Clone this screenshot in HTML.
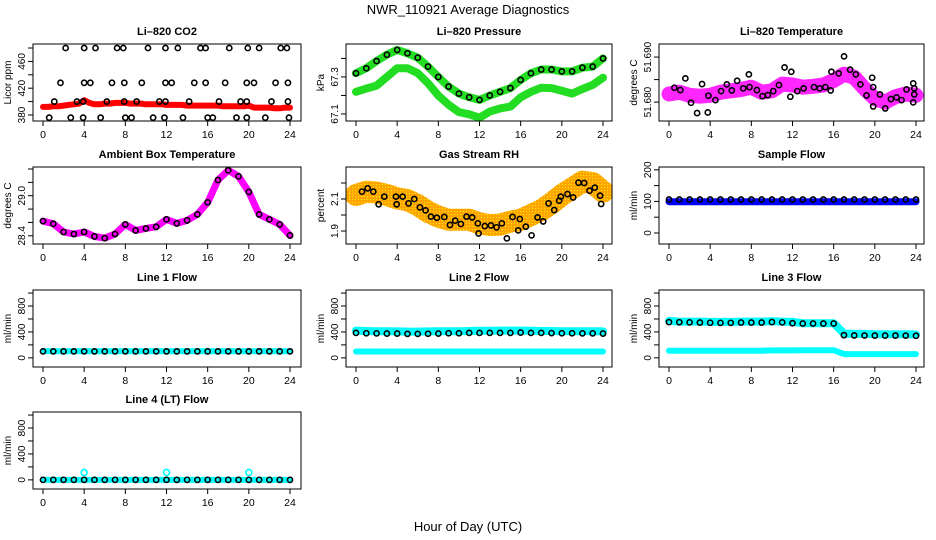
<!DOCTYPE html>
<html><head><meta charset="utf-8">
<style>
html,body{margin:0;padding:0;background:#fff;}
svg{display:block;font-family:"Liberation Sans",sans-serif;}
</style></head>
<body>
<svg id="chart" width="936" height="540" viewBox="0 0 936 540" xmlns="http://www.w3.org/2000/svg">
<defs>
<pattern id="rhpat" width="3" height="3" patternUnits="userSpaceOnUse">
<rect width="3" height="3" fill="#ffa500"/><rect x="1" y="1" width="1" height="1" fill="#ffee00"/>
</pattern>
</defs>
<text x="468" y="14" text-anchor="middle" font-size="13">NWR_110921  Average Diagnostics</text>
<text x="468" y="531" text-anchor="middle" font-size="13">Hour of Day (UTC)</text>
</svg>
<script>
const HRS=[0,1,2,3,4,5,6,7,8,9,10,11,12,13,14,15,16,17,18,19,20,21,22,23,24];
const HALF=[0,0.5,1,1.5,2,2.5,3,3.5,4,4.5,5,5.5,6,6.5,7,7.5,8,8.5,9,9.5,10,10.5,11,11.5,12,12.5,13,13.5,14,14.5,15,15.5,16,16.5,17,17.5,18,18.5,19,19.5,20,20.5,21,21.5,22,22.5,23,23.5,24];
const X_TICKS=[0,4,8,12,16,20,24];

// CO2
const co2Red=[392,392,393,393,394,395,396,397,402,398,396,396,397,397,398,398,398,397,397,397,396,396,396,396,395,395,395,395,394,394,394,394,394,394,394,393,393,393,393,393,394,391,391,391,391,390,390,391,391];
const co2BlkHours=[2.2,4.0,5.1,7.2,7.8,10.2,11.9,13.1,15.3,15.8,18.1,19.9,21.0,23.1,23.7, 1.7,4.0,4.6,6.7,7.9,9.6,11.9,12.5,14.7,15.8,17.7,19.8,20.5,22.6,23.8, 1.1,3.3,3.9,6.2,7.9,9.1,11.3,11.9,14.2,17.1,19.2,19.8,22.2,23.8, 0.6,2.7,3.9,5.6,8.0,8.6,10.7,11.8,13.6,16.0,16.5,18.8,19.8,21.6,23.9];
const co2BlkVals=[480,480,480,480,480,480,480,480,480,480,480,480,480,480,480, 428,428,428,428,428,428,428,428,428,428,428,428,428,428,428, 400,400,400,400,400,400,400,400,400,400,400,400,400,400, 376,376,376,376,376,376,376,376,376,376,376,376,376,376,376];
// Pressure
const presUpper=[67.32,67.347,67.386,67.42,67.446,67.428,67.404,67.356,67.30,67.248,67.21,67.19,67.176,67.20,67.22,67.24,67.284,67.32,67.34,67.34,67.33,67.33,67.35,67.356,67.40];
const presLower=[67.22,67.237,67.253,67.30,67.347,67.347,67.32,67.266,67.20,67.15,67.11,67.098,67.08,67.113,67.13,67.14,67.19,67.22,67.242,67.24,67.225,67.21,67.235,67.257,67.296];
// Li-820 temperature
const tempBand=[51.6818,51.6822,51.6815,51.6813,51.6815,51.6822,51.6825,51.6828,51.6833,51.6822,51.6825,51.6840,51.6838,51.6833,51.6835,51.6838,51.6848,51.6862,51.6855,51.6830,51.6808,51.6800,51.6812,51.6818,51.6815];
const tempBlkHours=[0.52,1.10,1.59,2.14,2.73,3.21,3.83,3.77,4.51,5.06,5.62,6.10,6.62,7.21,7.76,7.82,8.54,9.09,9.61,10.13,10.68,11.23,11.79,11.88,12.47,13.08,14.09,14.64,15.19,15.71,15.78,16.49,17.01,17.60,18.15,18.60,19.19,19.74,19.84,19.84,20.49,21.01,21.56,22.11,22.60,23.08,23.73,23.83,23.83,23.73];
const tempBlkVals=[51.68319,51.68267,51.68526,51.67985,51.67756,51.68400,51.68141,51.67770,51.68044,51.68244,51.68393,51.68259,51.68474,51.68304,51.68615,51.68333,51.68267,51.68133,51.68156,51.68244,51.68378,51.68770,51.68119,51.68674,51.68244,51.68304,51.68333,51.68304,51.68333,51.68259,51.68674,51.68637,51.69015,51.68719,51.68615,51.68393,51.68148,51.68541,51.68333,51.67904,51.68170,51.67859,51.68067,51.68104,51.68044,51.68281,51.68415,51.68304,51.68170,51.67993];
// Ambient box temperature
const ambBand=[28.62,28.58,28.457,28.426,28.457,28.39,28.365,28.426,28.57,28.48,28.51,28.534,28.646,28.585,28.63,28.72,28.90,29.235,29.38,29.29,29.057,28.72,28.646,28.57,28.405];
// Gas stream RH
const rhBand=[2.125,2.146,2.14,2.125,2.104,2.093,2.062,2.02,1.99,1.97,1.97,1.97,1.948,1.937,1.94,1.958,1.97,2.0,2.03,2.073,2.125,2.167,2.208,2.20,2.146];
const rhBlkHours=[0.58,1.13,1.68,2.20,2.75,3.88,3.95,4.53,5.11,5.66,6.21,6.76,7.28,7.86,8.58,9.13,9.64,10.19,10.74,11.29,11.84,11.91,12.52,13.11,13.66,14.17,14.66,15.21,15.76,15.92,16.50,17.06,17.64,18.19,18.71,19.26,19.74,19.90,20.55,21.10,21.62,22.17,22.69,23.20,23.72,23.82];
const rhBlkVals=[2.146,2.167,2.146,2.067,2.115,2.115,2.067,2.115,2.073,2.10,2.048,2.029,1.99,1.983,1.988,1.938,1.965,1.944,1.99,1.985,1.948,1.885,1.931,1.935,1.923,1.948,1.854,1.988,1.904,1.975,1.927,1.873,1.985,1.96,2.073,2.031,2.09,2.115,2.131,2.110,2.202,2.20,2.152,2.171,2.121,2.069];
// Flows
const sampleBlue=[99,99,99,99,99,99,99,99,99,99,99,99,99,99,99,99,99,99,99,99,99,99,99,99,99];
const sampleBlk=[106,106,106,106,106,106,106,106,106,106,106,106,106,106,106,106,106,106,106,106,106,106,106,106,106];
const line1Cyan=[105,102,102,102,102,102,102,102,102,102,102,102,102,102,102,102,102,102,102,102,102,102,102,102,102];
const line1Blk=[100,100,100,100,100,100,100,100,100,100,100,100,100,100,100,100,100,100,100,100,100,100,100,100,100];
const line2CyanHi=[420,415,410,410,408,405,405,408,410,412,412,415,418,418,420,420,420,418,415,415,412,412,410,410,408];
const line2Blk=[385,380,378,375,375,370,370,372,375,380,380,385,385,385,385,385,390,385,385,382,380,380,378,378,375];
const line2CyanLo=[98,98,98,98,98,98,98,98,98,98,98,98,98,98,98,98,98,98,98,98,98,98,98,98,98];
const line3CyanHi=[570,560,560,560,555,555,555,560,560,560,565,560,555,535,535,535,535,375,370,370,365,365,365,365,360];
const line3Blk=[551,550,548,545,542,540,540,545,545,545,552,548,535,530,530,530,530,350,346,345,344,344,344,343,340];
const line3CyanLo=[110,110,110,110,110,110,110,110,110,110,115,115,115,118,118,118,118,58,58,58,58,58,58,58,58];
const line4Cyan=[0,0,0,0,0,0,0,0,0,0,0,0,0,0,0,0,0,0,0,0,0,0,0,0,0];
const line4Blk=[0,0,0,0,0,0,0,0,0,0,0,0,0,0,0,0,0,0,0,0,0,0,0,0,0];
const line4OutHours=[4,12,20];
const line4OutVals=[114,114,114];

const svg=document.getElementById('chart');
const NS='http://www.w3.org/2000/svg';
const COL_L=[33,346,659], COL_W=[268,266,265];
const ROW_T=[44,167,290,412], BOX_H=77;

function mk(tag,attrs,parent){
  const e=document.createElementNS(NS,tag);
  for(const k in attrs) e.setAttribute(k,attrs[k]);
  (parent||svg).appendChild(e);
  return e;
}

function panel(name,col,row,title,ylab,ylim,yticks,ylabels,draw){
  const L=COL_L[col],R=L+COL_W[col],T=ROW_T[row],B=T+BOX_H;
  const g=mk('g',{});
  
  
  const xs=h=>L+10+h*(247/24);
  const ys=v=>B-(v-ylim[0])/(ylim[1]-ylim[0])*BOX_H;
  const t=mk('text',{x:(L+R)/2,y:T-9,'text-anchor':'middle','font-size':11,'font-weight':'bold'},g);
  t.textContent=title;
  
  
  const yl=mk('text',{x:0,y:0,'text-anchor':'middle','font-size':10,transform:`translate(${L-22},${(T+B)/2}) rotate(-90)`},g);
  yl.textContent=ylab;
  
  
  const xa=mk('g',{},g);
  
  
  X_TICKS.forEach(h=>{
    mk('line',{x1:xs(h),x2:xs(h),y1:B,y2:B+5,stroke:'#000','stroke-width':1},xa);
    const tl=mk('text',{x:xs(h),y:B+17,'text-anchor':'middle','font-size':10.5},xa);
    tl.textContent=String(h);
    
    
  });
  const ya=mk('g',{},g);
  
  
  mk('line',{x1:L,x2:L,y1:ys(yticks[0]),y2:ys(yticks[yticks.length-1]),stroke:'#000'},ya);
  yticks.forEach((v,i)=>{
    mk('line',{x1:L-5,x2:L,y1:ys(v),y2:ys(v),stroke:'#000'},ya);
    if(ylabels[i]){
      const tl=mk('text',{x:0,y:0,'text-anchor':'middle','font-size':10,transform:`translate(${L-8},${ys(v)}) rotate(-90)`},ya);
      tl.textContent=ylabels[i];
      
      
    }
  });
  const clip='clip'+name;
  const cp=mk('clipPath',{id:clip},g); mk('rect',{x:L,y:T-2,width:R-L,height:BOX_H+4},cp);
  const plot=mk('g',{'clip-path':`url(#${clip})`},g);
  
  
  draw(plot,xs,ys);
  const box=mk('rect',{x:L,y:T,width:R-L,height:BOX_H,fill:'none',stroke:'#000','stroke-width':1},g);
  
  
}

function band(p,xs,ys,hours,vals,color,w,nm,opacity){
  const pts=hours.map((h,i)=>xs(h).toFixed(1)+','+ys(vals[i]).toFixed(1)).join(' ');
  const pl=mk('polyline',{points:pts,fill:'none',stroke:color,'stroke-width':w,'stroke-linejoin':'round','stroke-linecap':'round',opacity:opacity||1},p);
  
  
}
function pts(p,xs,ys,hours,vals,color,nm,r){
  const gg=mk('g',{},p);
  
  
  hours.forEach((h,i)=>{
    const c=mk('circle',{cx:xs(h),cy:ys(vals[i]),r:r||2.6,fill:'none',stroke:color,'stroke-width':1.6},gg);
    
    
  });
}

panel('co2',0,0,'Li\u2013820 CO2','Licor ppm',[371,486],[380,400,420,440,460,480],['380','','420','','460',''],(p,xs,ys)=>{
  band(p,xs,ys,HALF,co2Red,'#ff0000',6,'co2-red-series');
  pts(p,xs,ys,co2BlkHours,co2BlkVals,'#000','co2-black-series');
});
panel('pressure',1,0,'Li\u2013820 Pressure','kPa',[67.062,67.478],[67.1,67.2,67.3,67.4],['67.1','','67.3',''],(p,xs,ys)=>{
  band(p,xs,ys,HRS,presLower,'#22dd22',8,'pressure-lower-series');
  band(p,xs,ys,HRS,presUpper,'#22dd22',8,'pressure-upper-series');
  pts(p,xs,ys,HRS,presUpper,'#000','pressure-black-series');
});
panel('li820temp',2,0,'Li\u2013820 Temperature','degrees C',[51.6758,51.6929],[51.680,51.685,51.690],['51.680','','51.690'],(p,xs,ys)=>{
  band(p,xs,ys,HRS,tempBand,'#ff00ff',15,'temp-magenta-series',0.85);
  pts(p,xs,ys,tempBlkHours,tempBlkVals,'#000','temp-black-series');
});
panel('ambient',0,1,'Ambient Box Temperature','degrees C',[28.277,29.43],[28.4,28.6,28.8,29.0,29.2,29.4],['28.4','','','29.0','',''],(p,xs,ys)=>{
  band(p,xs,ys,HRS,ambBand,'#ff00ff',7,'ambient-magenta-series');
  pts(p,xs,ys,HRS,ambBand,'#000','ambient-black-series');
});
panel('rh',1,1,'Gas Stream RH','percent',[1.819,2.3],[1.9,2.0,2.1,2.2],['1.9','','2.1',''],(p,xs,ys)=>{
  band(p,xs,ys,HRS,rhBand,'url(#rhpat)',22,'rh-orange-series');
  pts(p,xs,ys,rhBlkHours,rhBlkVals,'#000','rh-black-series');
});
panel('sampleflow',2,1,'Sample Flow','ml/min',[-35,209],[0,50,100,150,200],['0','','100','','200'],(p,xs,ys)=>{
  band(p,xs,ys,HRS,sampleBlue,'#0000ff',7,'sample-blue-series');
  pts(p,xs,ys,HRS,sampleBlk,'#000','sample-black-series');
});
const FT=[0,200,400,600,800,1000], FL=['0','','400','','800',''];
panel('line1',0,2,'Line 1 Flow','ml/min',[-141,1047],FT,FL,(p,xs,ys)=>{
  band(p,xs,ys,HRS,line1Cyan,'#00ffff',6,'line1-cyan-series');
  pts(p,xs,ys,HRS,line1Blk,'#000','line1-black-series');
});
panel('line2',1,2,'Line 2 Flow','ml/min',[-141,1047],FT,FL,(p,xs,ys)=>{
  band(p,xs,ys,HRS,line2CyanLo,'#00ffff',6,'line2-cyan-low-series');
  band(p,xs,ys,HRS,line2CyanHi,'#00ffff',8,'line2-cyan-high-series');
  pts(p,xs,ys,HRS,line2Blk,'#000','line2-black-series');
});
panel('line3',2,2,'Line 3 Flow','ml/min',[-141,1047],FT,FL,(p,xs,ys)=>{
  band(p,xs,ys,HRS,line3CyanLo,'#00ffff',6,'line3-cyan-low-series');
  band(p,xs,ys,HRS,line3CyanHi,'#00ffff',8,'line3-cyan-high-series');
  pts(p,xs,ys,HRS,line3Blk,'#000','line3-black-series');
});
panel('line4',0,3,'Line 4 (LT) Flow','ml/min',[-141,1047],FT,FL,(p,xs,ys)=>{
  band(p,xs,ys,HRS,line4Cyan,'#00ffff',6,'line4-cyan-series');
  pts(p,xs,ys,line4OutHours,line4OutVals,'#00ffff','line4-cyan-outliers',3);
  pts(p,xs,ys,HRS,line4Blk,'#000','line4-black-series');
});
</script>
</body></html>
